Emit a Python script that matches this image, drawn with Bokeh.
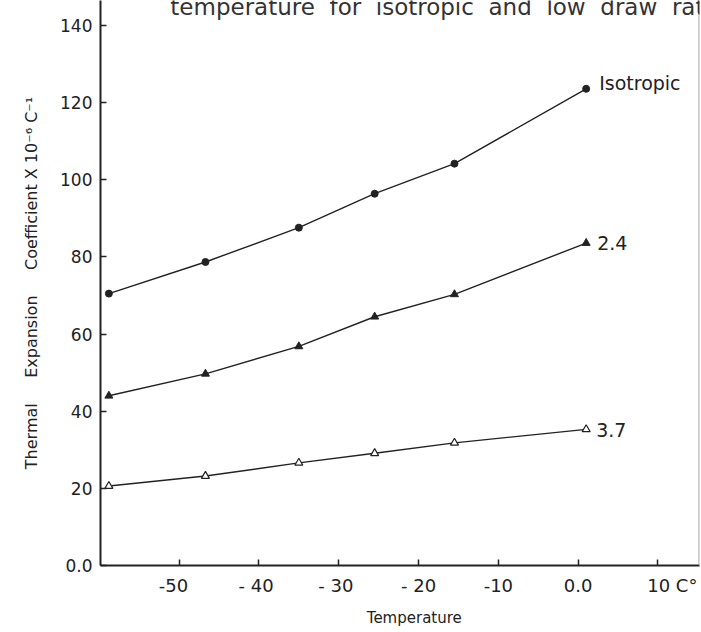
from bokeh.plotting import figure
from bokeh.models import Range1d, FixedTicker, Label, Span, ColumnDataSource
from bokeh.core.properties import value
from bokeh.embed import file_html
from bokeh.resources import INLINE

# Temperature (deg C) at which each sample was measured
temperature = [-58.8, -46.7, -35.0, -25.5, -15.5, 1.0]

# Thermal expansion coefficient x 10^-6 C^-1 for each draw ratio
isotropic = [70.5, 78.7, 87.6, 96.4, 104.2, 123.6]
draw_2_4 = [44.0, 49.7, 56.8, 64.5, 70.3, 83.6]
draw_3_7 = [20.6, 23.2, 26.6, 29.1, 31.8, 35.3]

series_names = ["Isotropic", "2.4", "3.7"]

NB = "\u00a0"
x_ticks = [-50, -40, -30, -20, -10, 0, 10]
x_tick_labels = ["-50" + NB * 2, "- 40" + NB, "- 30" + NB, "- 20", "-10", "0.0",
                 NB * 5 + "10 C\u00b0"]
y_ticks = [0, 20, 40, 60, 80, 100, 120, 140]
y_tick_labels = ["0.0", "20", "40", "60", "80", "100", "120", "140"]

FONT = "DejaVu Sans"
INK = "#222222"

p = figure(
    width=701, height=632,
    x_range=Range1d(-59.85, 15.2), y_range=Range1d(0, 146.5),
    output_backend="svg", toolbar_location=None,
    min_border_left=100, min_border_right=2,
    min_border_top=0, min_border_bottom=67,
)
p.outline_line_color = None
p.xgrid.visible = False
p.ygrid.visible = False
p.background_fill_color = "white"
p.border_fill_color = "white"

for ax in (p.xaxis[0], p.yaxis[0]):
    ax.axis_line_color = INK
    ax.axis_line_width = 2
    ax.major_tick_line_color = INK
    ax.major_tick_line_width = 1.5
    ax.major_tick_in = 6
    ax.major_tick_out = 0
    ax.minor_tick_line_color = None
    ax.major_label_text_font = FONT
    ax.major_label_text_color = INK
    ax.axis_label_text_font = FONT
    ax.axis_label_text_font_style = "normal"
    ax.axis_label_text_color = INK

p.xaxis.ticker = FixedTicker(ticks=x_ticks)
p.xaxis.major_label_overrides = dict(zip(x_ticks, x_tick_labels))
p.xaxis.major_label_text_font_size = "18px"
p.xaxis.major_label_standoff = 9
p.xaxis.axis_label = NB * 6 + "Temperature"
p.xaxis.axis_label_text_font_size = "15px"
p.xaxis.axis_label_standoff = 10

p.yaxis.ticker = FixedTicker(ticks=y_ticks)
p.yaxis.major_label_overrides = dict(zip(y_ticks, y_tick_labels))
p.yaxis.major_label_text_font_size = "17px"
p.yaxis.major_label_standoff = 8
p.yaxis.axis_label = (f"Thermal{NB*5}Expansion{NB*5}Coefficient{NB}X{NB}10\u207b\u2076{NB}C\u207b\u00b9")
p.yaxis.axis_label_text_font_size = "16px"
p.yaxis.axis_label_standoff = 16

# right-hand edge of the plotting box
p.add_layout(Span(location=15.15, dimension="height", line_color="#9a9a9a", line_width=1.2))

# curves through the measured points
for ys in (isotropic, draw_2_4, draw_3_7):
    p.line(temperature, ys, line_color=INK, line_width=1.4)

p.scatter(temperature, isotropic, marker="circle", size=7, fill_color=INK, line_color=INK)
p.scatter(temperature, draw_2_4, marker="triangle", size=8, fill_color=INK, line_color=INK)
p.scatter(temperature, draw_3_7, marker="triangle", size=8, fill_color="white",
          line_color=INK, line_width=1.2)

# series names beside the last point of each curve
end_src = ColumnDataSource(dict(
    x=[temperature[-1]] * 3,
    y=[isotropic[-1], draw_2_4[-1], draw_3_7[-1]],
    name=series_names,
    dy=[-6, 0, 1],
    dx=[13, 11, 10],
))
p.text(x="x", y="y", text="name", source=end_src, x_offset="dx", y_offset="dy",
       text_font=value(FONT), text_font_size="19px", text_color=INK,
       text_baseline="middle", text_align="left")

# caption line running along the top edge
caption = NB.join(["temperature ", "for ", "isotropic ", "and ", "low ", "draw ", "ratio."])
p.add_layout(Label(x=-51.1, y=144.7, text=caption,
                   text_font=FONT, text_font_size="23px", text_color="#333333",
                   text_baseline="alphabetic", text_align="left"))

open("out.html", "w").write(file_html(p, INLINE))
